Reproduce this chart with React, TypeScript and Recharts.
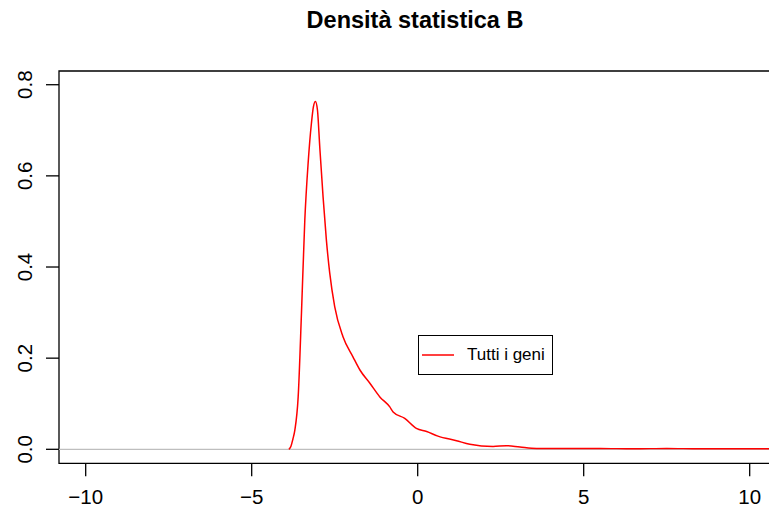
import React from "react";
import {
  ComposedChart,
  Line,
  XAxis,
  YAxis,
  ReferenceLine,
  ReferenceArea,
  Legend,
} from "recharts";

const xValues = [
  -3.88, -3.82, -3.76, -3.7, -3.6, -3.5, -3.4, -3.3, -3.2, -3.14, -3.08,
  -3.02, -2.95, -2.85, -2.75, -2.65, -2.5, -2.25, -1.95, -1.74, -1.44, -1.14,
  -0.84, -0.74, -0.39, -0.04, 0.27, 0.61, 1.17, 1.57, 2.27, 2.67, 3.08, 3.58,
  4.5, 5.5, 6.5, 7.5, 8.5, 9.5, 10.6, 11,
];
const densityValues = [
  0, 0.006, 0.022, 0.042, 0.115, 0.3, 0.503, 0.628, 0.716, 0.752, 0.763,
  0.745, 0.664, 0.554, 0.459, 0.387, 0.313, 0.247, 0.203, 0.174, 0.145, 0.115,
  0.093, 0.082, 0.068, 0.046, 0.039, 0.029, 0.019, 0.011, 0.006, 0.008, 0.005,
  0.002, 0.002, 0.002, 0.001, 0.002, 0.001, 0.001, 0.001, 0.001,
];
const xTicks = [-10, -5, 0, 5, 10];
const yTicks = [0, 0.2, 0.4, 0.6, 0.8];
const title = "Densità statistica B";
const seriesName = "Tutti i geni";

const X_MIN = -10.804;
const X_MAX = 10.642;
const Y_MIN = -0.0307;
const Y_MAX = 0.8301;

const data = xValues.map((x, i) => ({ x, y: densityValues[i] }));

const FONT = "'Liberation Sans', Arial, Helvetica, sans-serif";

const fmtX = (v: number) => String(v).replace("-", "\u2212");
const fmtY = (v: number) => v.toFixed(1);

const YTick = (props: any) => {
  const { x, y, payload } = props;
  return (
    <text
      x={0}
      y={0}
      transform={`translate(${x - 12},${y}) rotate(-90)`}
      textAnchor="middle"
      fontSize={20.5}
      fontFamily={FONT}
      fill="#000"
    >
      {fmtY(payload.value)}
    </text>
  );
};

const XTick = (props: any) => {
  const { x, y, payload } = props;
  return (
    <text
      x={x}
      y={y + 26}
      textAnchor="middle"
      fontSize={20.5}
      fontFamily={FONT}
      fill="#000"
    >
      {fmtX(payload.value)}
    </text>
  );
};

const LegendBox = () => (
  <div
    style={{
      width: 135,
      height: 40,
      border: "1px solid #000",
      background: "#fff",
      boxSizing: "border-box",
      position: "relative",
      fontFamily: FONT,
      fontSize: 17,
    }}
  >
    <svg
      width={36}
      height={4}
      style={{ position: "absolute", left: 2, top: 17 }}
    >
      <line x1={1} y1={2} x2={33} y2={2} stroke="#ff0000" strokeWidth={1.5} />
    </svg>
    <div style={{ position: "absolute", left: 48, top: 9, lineHeight: "20px", color: "#000" }}>
      {seriesName}
    </div>
  </div>
);

export default function App() {
  return (
    <div
      style={{
        position: "absolute",
        left: 0,
        top: 0,
        width: 769,
        height: 515,
        overflow: "hidden",
        background: "#fff",
      }}
    >
      <div
        style={{
          position: "absolute",
          left: 0,
          width: 830,
          top: 7,
          lineHeight: "27px",
          textAlign: "center",
          fontFamily: FONT,
          fontWeight: "bold",
          fontSize: 23.5,
          color: "#000",
        }}
      >
        {title}
      </div>
      <ComposedChart
        width={800}
        height={515}
        data={data}
        margin={{ top: 71, left: 19, right: 29, bottom: 11.7 }}
      >
        <XAxis
          dataKey="x"
          type="number"
          domain={[X_MIN, X_MAX]}
          ticks={xTicks}
          allowDataOverflow
          height={40}
          tickSize={13}
          tickLine={{ stroke: "#000", strokeWidth: 1.3 }}
          axisLine={false}
          tick={<XTick />}
          interval={0}
        />
        <YAxis
          type="number"
          domain={[Y_MIN, Y_MAX]}
          ticks={yTicks}
          allowDataOverflow
          width={40}
          tickSize={13}
          tickLine={{ stroke: "#000", strokeWidth: 1.3 }}
          axisLine={false}
          tick={<YTick />}
          interval={0}
        />
        <ReferenceLine y={0} stroke="#bebebe" strokeWidth={1.3} ifOverflow="extendDomain" />
        <Line
          type="monotone"
          dataKey="y"
          name={seriesName}
          stroke="#ff0000"
          strokeWidth={1.5}
          dot={false}
          activeDot={false}
          isAnimationActive={false}
        />
        <ReferenceArea
          x1={X_MIN}
          x2={X_MAX}
          y1={Y_MIN}
          y2={Y_MAX}
          fill="none"
          stroke="#000"
          strokeWidth={1.3}
          ifOverflow="visible"
        />
        <Legend
          verticalAlign="middle"
          align="center"
          layout="horizontal"
          content={<LegendBox />}
          wrapperStyle={{ position: "absolute", left: 418, top: 335, width: 135, height: 40 }}
        />
      </ComposedChart>
    </div>
  );
}
